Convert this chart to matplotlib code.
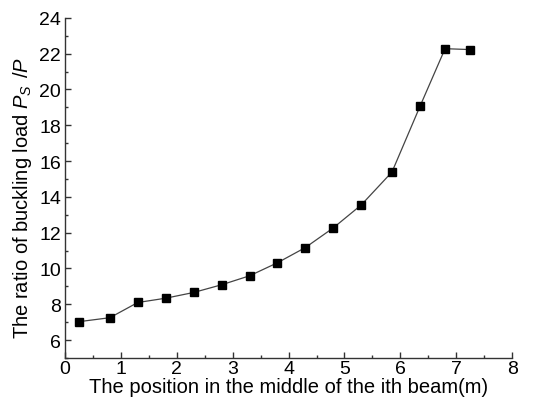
import matplotlib
matplotlib.use('Agg')
import matplotlib.pyplot as plt
from matplotlib.ticker import MultipleLocator

plt.rcParams['font.family'] = ['Liberation Sans', 'DejaVu Sans']
plt.rcParams['mathtext.fontset'] = 'custom'
plt.rcParams['mathtext.it'] = 'Liberation Sans:italic'
plt.rcParams['mathtext.rm'] = 'Liberation Sans'

# # beam position (m) and ratio of buckling load
position = [0.25, 0.8, 1.3, 1.8, 2.3, 2.8, 3.3, 3.8, 4.3, 4.8, 5.3, 5.85, 6.35, 6.8, 7.25]
ratio = [7.03, 7.25, 8.1, 8.34, 8.66, 9.09, 9.59, 10.32, 11.17, 12.27, 13.55, 15.39, 19.05, 22.28, 22.23]

fig = plt.figure(figsize=(5.34, 4.02), dpi=100)
ax = fig.add_axes([0.122, 0.107, 0.837, 0.846])

ax.plot(position, ratio, '-', color='#444444', lw=0.9)
ax.plot(position, ratio, 's', color='black', ms=5.2, mec='black')

ax.set_xlim(0, 8)
ax.set_ylim(5, 24)
ax.xaxis.set_major_locator(MultipleLocator(1))
ax.xaxis.set_minor_locator(MultipleLocator(0.5))
ax.yaxis.set_minor_locator(MultipleLocator(1))
ax.set_yticks(range(6, 25, 2))

ax.spines['top'].set_visible(False)
ax.spines['right'].set_visible(False)
for s in ('left', 'bottom'):
    ax.spines[s].set_linewidth(1.0)
    ax.spines[s].set_color('#333333')

ax.tick_params(which='major', direction='in', length=4.5, width=1, labelsize=14, pad=3, color='#333333')
ax.tick_params(which='minor', direction='in', length=2.5, width=1, color='#333333')
ax.tick_params(axis='x', which='major', pad=1.5)

ax.set_xlabel('The position in the middle of the ith beam(m)', fontsize=14.5, labelpad=0)
ax.set_ylabel(r'The ratio of buckling load $P_{S}\;\,$/$P$', fontsize=14.5)
ax.yaxis.set_label_coords(-0.069, 0.474)

fig.savefig('out.png', dpi=100)
